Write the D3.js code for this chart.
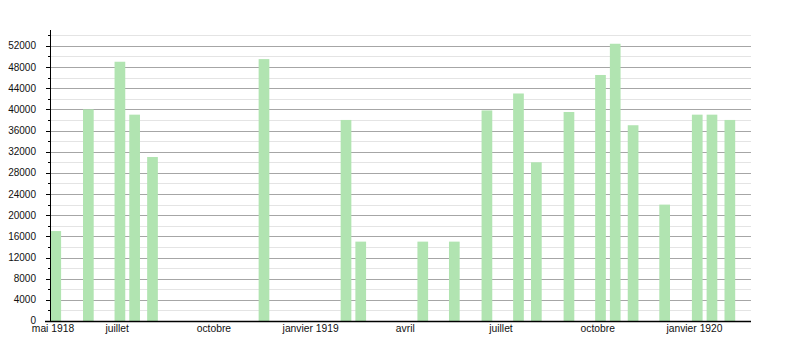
<!DOCTYPE html>
<html>
<head>
  <meta charset="utf-8">
  <script src="https://d3js.org/d3.v7.min.js"></script>
  <style>
    body { margin: 0; background: #fff; }
    text { font-family: "Liberation Sans", Arial, sans-serif; fill: #111; }
  </style>
</head>
<body>
<script>
  // semi-monthly dates of each count (year, month index, day)
  var dates = [
    "1918-05-01", "1918-06-01", "1918-07-01", "1918-07-15", "1918-08-01",
    "1918-11-15", "1919-02-01", "1919-02-15", "1919-04-15", "1919-05-15",
    "1919-06-15", "1919-07-15", "1919-08-01", "1919-09-01", "1919-10-01",
    "1919-10-15", "1919-11-01", "1919-12-01", "1920-01-01", "1920-01-15",
    "1920-02-01"
  ];
  var values = [
    17000, 40000, 49000, 39000, 31000,
    49500, 38000, 15000, 15000, 15000,
    39800, 43000, 30000, 39500, 46500,
    52400, 37000, 22000, 39000, 39000,
    38000
  ];
  // x tick labels
  var tickDates = ["1918-05-01", "1918-07-01", "1918-10-01", "1919-01-01",
                   "1919-04-01", "1919-07-01", "1919-10-01", "1920-01-01"];
  var tickLabels = ["mai 1918", "juillet", "octobre", "janvier 1919",
                    "avril", "juillet", "octobre", "janvier 1920"];

  var parse = d3.utcParse("%Y-%m-%d");
  var data = dates.map(function(d, i) { return { date: parse(d), value: values[i] }; });

  var width = 800, height = 350;
  var svg = d3.select("body").append("svg")
      .attr("width", width)
      .attr("height", height);

  var x = d3.scaleUtc()
      .domain([parse("1918-05-01"), parse("1920-01-01")])
      .range([53, 694.5]);
  var y = d3.scaleLinear()
      .domain([0, 55000])
      .range([321, 30]);

  var left = 50, right = 751;

  // minor gridlines (every 2000, odd)
  var minor = d3.range(2000, 55000, 4000);
  var major = d3.range(4000, 53000, 4000);

  svg.append("g").selectAll("line")
    .data(minor).enter().append("line")
      .attr("x1", left).attr("x2", right)
      .attr("y1", function(d) { return Math.round(y(d)) + 0.5; })
      .attr("y2", function(d) { return Math.round(y(d)) + 0.5; })
      .attr("stroke", "#e4e4e4");

  svg.append("g").selectAll("line")
    .data(major).enter().append("line")
      .attr("x1", left).attr("x2", right)
      .attr("y1", function(d) { return Math.round(y(d)) + 0.5; })
      .attr("y2", function(d) { return Math.round(y(d)) + 0.5; })
      .attr("stroke", "#a6a6a6");

  // bars
  svg.append("g").selectAll("rect")
    .data(data).enter().append("rect")
      .attr("x", function(d) { return x(d.date) - 2.6; })
      .attr("width", 10.7)
      .attr("y", function(d) { return y(d.value); })
      .attr("height", function(d) { return y(0) - y(d.value); })
      .attr("fill", "#b1e4b1");

  // y axis
  svg.append("line")
      .attr("x1", left + 0.5).attr("x2", left + 0.5)
      .attr("y1", y(55000)).attr("y2", y(0))
      .attr("stroke", "#000");

  svg.append("g").selectAll("line")
    .data(major.concat([0])).enter().append("line")
      .attr("x1", left - 4).attr("x2", left + 1)
      .attr("y1", function(d) { return Math.round(y(d)) + 0.5; })
      .attr("y2", function(d) { return Math.round(y(d)) + 0.5; })
      .attr("stroke", "#000");

  svg.append("g").selectAll("line")
    .data(minor).enter().append("line")
      .attr("x1", left - 2).attr("x2", left + 1)
      .attr("y1", function(d) { return Math.round(y(d)) + 0.5; })
      .attr("y2", function(d) { return Math.round(y(d)) + 0.5; })
      .attr("stroke", "#000");

  svg.append("g").selectAll("text")
    .data([0].concat(major)).enter().append("text")
      .attr("x", 36)
      .attr("y", function(d) { return d === 0 ? y(d) - 1 : y(d); })
      .attr("dy", "0.35em")
      .attr("text-anchor", "end")
      .style("font-size", "10px")
      .text(function(d) { return d; });

  // x axis
  svg.append("line")
      .attr("x1", 45).attr("x2", right)
      .attr("y1", y(0) + 0.5).attr("y2", y(0) + 0.5)
      .attr("stroke", "#000")
      .attr("stroke-width", 1.5);

  svg.append("g").selectAll("text")
    .data(tickDates).enter().append("text")
      .attr("x", function(d) { return x(parse(d)); })
      .attr("y", 331.5)
      .attr("text-anchor", "middle")
      .style("font-size", "10.3px")
      .text(function(d, i) { return tickLabels[i]; });
</script>
</body>
</html>
